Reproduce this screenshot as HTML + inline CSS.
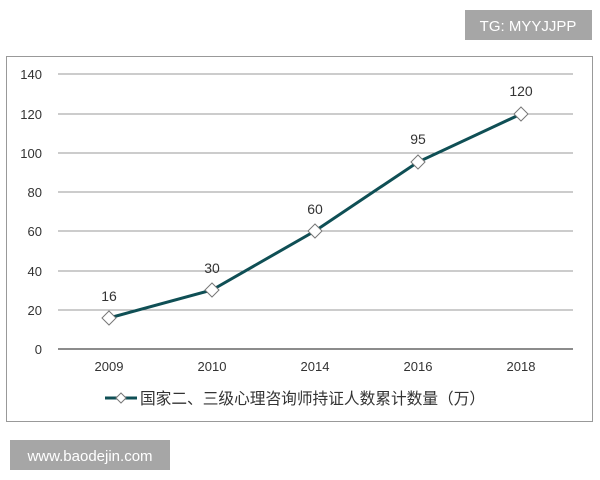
<!DOCTYPE html>
<html><head><meta charset="utf-8"><style>
body{margin:0;background:#fff;}
svg{display:block;font-family:"Liberation Sans","Noto Sans CJK SC",sans-serif;}
</style></head><body>
<svg width="600" height="480" viewBox="0 0 600 480">
<rect x="6.5" y="56.5" width="586" height="365" fill="#fff" stroke="#999" stroke-width="1"/>
<g stroke="#999" stroke-width="1">
<line x1="58" x2="573" y1="74" y2="74"/>
<line x1="58" x2="573" y1="114" y2="114"/>
<line x1="58" x2="573" y1="153" y2="153"/>
<line x1="58" x2="573" y1="192" y2="192"/>
<line x1="58" x2="573" y1="231" y2="231"/>
<line x1="58" x2="573" y1="271" y2="271"/>
<line x1="58" x2="573" y1="310" y2="310"/>
</g>
<line x1="58" x2="573" y1="349" y2="349" stroke="#666" stroke-width="1.5"/>
<g font-size="13" fill="#333" text-anchor="end">
<text x="42" y="79">140</text><text x="42" y="119">120</text><text x="42" y="158">100</text>
<text x="42" y="197">80</text><text x="42" y="236">60</text><text x="42" y="276">40</text>
<text x="42" y="315">20</text><text x="42" y="354">0</text>
</g>
<g font-size="13" fill="#333" text-anchor="middle">
<text x="109" y="371">2009</text><text x="212" y="371">2010</text><text x="315" y="371">2014</text>
<text x="418" y="371">2016</text><text x="521" y="371">2018</text>
</g>
<g font-size="14" fill="#333" text-anchor="middle">
<text x="109" y="301">16</text><text x="212" y="273">30</text><text x="315" y="214">60</text>
<text x="418" y="144">95</text><text x="521" y="96">120</text>
</g>
<polyline points="109,318 212,290 315,231 418,162 521,114" fill="none" stroke="#0f4f55" stroke-width="3"/>
<g fill="#fff" stroke="#777" stroke-width="1">
<path d="M109,311 L116,318 L109,325 L102,318Z"/>
<path d="M212,283 L219,290 L212,297 L205,290Z"/>
<path d="M315,224 L322,231 L315,238 L308,231Z"/>
<path d="M418,155 L425,162 L418,169 L411,162Z"/>
<path d="M521,107 L528,114 L521,121 L514,114Z"/>
</g>
<line x1="105" x2="137" y1="398" y2="398" stroke="#0f4f55" stroke-width="3"/>
<path d="M121,393 L126,398 L121,403 L116,398Z" fill="#fff" stroke="#777"/>
<text x="140" y="404" font-size="15.7" fill="#333">国家二、三级心理咨询师持证人数累计数量（万）</text>
<rect x="465" y="10" width="127" height="30" fill="#a6a6a6"/>
<text x="528" y="31" font-size="15" fill="#fff" text-anchor="middle">TG: MYYJJPP</text>
<rect x="10" y="440" width="160" height="30" fill="#a6a6a6"/>
<text x="90" y="461" font-size="15" fill="#fff" text-anchor="middle">www.baodejin.com</text>
</svg>
</body></html>
